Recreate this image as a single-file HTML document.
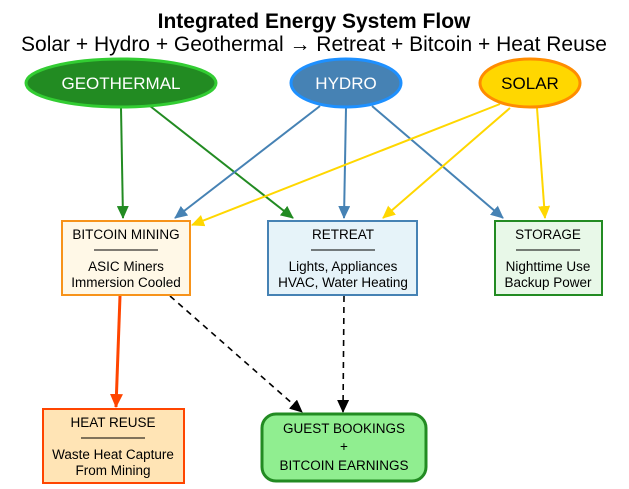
<!DOCTYPE html>
<html><head><meta charset="utf-8"><style>body{margin:0;background:#fff}svg{display:block}</style></head><body>
<svg width="629" height="489" viewBox="0 0 629 489" xmlns="http://www.w3.org/2000/svg" font-family="Liberation Sans, Arial, sans-serif">
<defs>
<marker id="ag" markerWidth="13" markerHeight="12" refX="12" refY="6" orient="auto" markerUnits="userSpaceOnUse"><path d="M0,0 L13,6 L0,12z" fill="#228B22"/></marker>
<marker id="ab" markerWidth="13" markerHeight="12" refX="12" refY="6" orient="auto" markerUnits="userSpaceOnUse"><path d="M0,0 L13,6 L0,12z" fill="#4682B4"/></marker>
<marker id="ay" markerWidth="13" markerHeight="12" refX="12" refY="6" orient="auto" markerUnits="userSpaceOnUse"><path d="M0,0 L13,6 L0,12z" fill="#FFD700"/></marker>
<marker id="ao" markerWidth="14" markerHeight="13" refX="13" refY="6.5" orient="auto" markerUnits="userSpaceOnUse"><path d="M0,0 L14,6.5 L0,13z" fill="#FF4500"/></marker>
<marker id="ak" markerWidth="13" markerHeight="12" refX="12" refY="6" orient="auto" markerUnits="userSpaceOnUse"><path d="M0,0 L13,6 L0,12z" fill="#000"/></marker>
</defs>
<text x="314" y="28" text-anchor="middle" font-size="21" font-weight="bold">Integrated Energy System Flow</text>
<text x="314" y="51" text-anchor="middle" font-size="21">Solar + Hydro + Geothermal → Retreat + Bitcoin + Heat Reuse</text>
<g stroke-width="2" fill="none">
<line x1="121" y1="108" x2="123" y2="218" stroke="#228B22" marker-end="url(#ag)"/>
<line x1="150" y1="106" x2="293" y2="218" stroke="#228B22" marker-end="url(#ag)"/>
<line x1="320" y1="106" x2="175" y2="218" stroke="#4682B4" marker-end="url(#ab)"/>
<line x1="346" y1="108" x2="344" y2="218" stroke="#4682B4" marker-end="url(#ab)"/>
<line x1="372" y1="106" x2="503" y2="218" stroke="#4682B4" marker-end="url(#ab)"/>
<line x1="500" y1="104" x2="192" y2="225" stroke="#FFD700" marker-end="url(#ay)"/>
<line x1="510" y1="108" x2="383" y2="218" stroke="#FFD700" marker-end="url(#ay)"/>
<line x1="537" y1="108" x2="545" y2="218" stroke="#FFD700" marker-end="url(#ay)"/>
<line x1="120" y1="296" x2="116" y2="407" stroke="#FF4500" stroke-width="3" marker-end="url(#ao)"/>
<line x1="170" y1="296" x2="302" y2="412" stroke="#000" stroke-dasharray="6,5" stroke-width="1.6" marker-end="url(#ak)"/>
<line x1="344" y1="296" x2="343" y2="412" stroke="#000" stroke-dasharray="6,5" stroke-width="1.6" marker-end="url(#ak)"/>
</g>
<ellipse cx="121" cy="83" rx="95" ry="24" fill="#228B22" stroke="#32CD32" stroke-width="3"/>
<text x="121" y="89" text-anchor="middle" font-size="17" fill="#fff">GEOTHERMAL</text>
<ellipse cx="346" cy="83" rx="55" ry="24" fill="#4682B4" stroke="#1E90FF" stroke-width="3"/>
<text x="346" y="89" text-anchor="middle" font-size="17" fill="#fff">HYDRO</text>
<ellipse cx="530" cy="83" rx="50" ry="24" fill="#FFD700" stroke="#FF8C00" stroke-width="3"/>
<text x="530" y="89" text-anchor="middle" font-size="17" fill="#000">SOLAR</text>
<g font-size="13.5" text-anchor="middle">
<rect x="62" y="221" width="128" height="74" fill="#FFF8E7" stroke="#F7931A" stroke-width="2"/>
<text x="126" y="239">BITCOIN MINING</text>
<line x1="94" y1="250" x2="158" y2="250" stroke="#000"/>
<text x="126" y="271">ASIC Miners</text><text x="126" y="287">Immersion Cooled</text>
<rect x="268" y="221" width="149" height="74" fill="#E6F3F9" stroke="#4682B4" stroke-width="2"/>
<text x="343" y="239">RETREAT</text>
<line x1="311" y1="250" x2="375" y2="250" stroke="#000"/>
<text x="343" y="271">Lights, Appliances</text><text x="343" y="287">HVAC, Water Heating</text>
<rect x="495" y="221" width="107" height="74" fill="#E8F8E8" stroke="#228B22" stroke-width="2"/>
<text x="548" y="239">STORAGE</text>
<line x1="516" y1="250" x2="580" y2="250" stroke="#000"/>
<text x="548" y="271">Nighttime Use</text><text x="548" y="287">Backup Power</text>
<rect x="43" y="409" width="141" height="74" fill="#FFE4B5" stroke="#FF4500" stroke-width="2"/>
<text x="113" y="427">HEAT REUSE</text>
<line x1="81" y1="438" x2="145" y2="438" stroke="#000"/>
<text x="113" y="459">Waste Heat Capture</text><text x="113" y="475">From Mining</text>
<rect x="262" y="414" width="164" height="67" rx="14" fill="#90EE90" stroke="#228B22" stroke-width="3"/>
<text x="344" y="433">GUEST BOOKINGS</text>
<text x="344" y="451">+</text>
<text x="344" y="470">BITCOIN EARNINGS</text>
</g>
</svg>
</body></html>
